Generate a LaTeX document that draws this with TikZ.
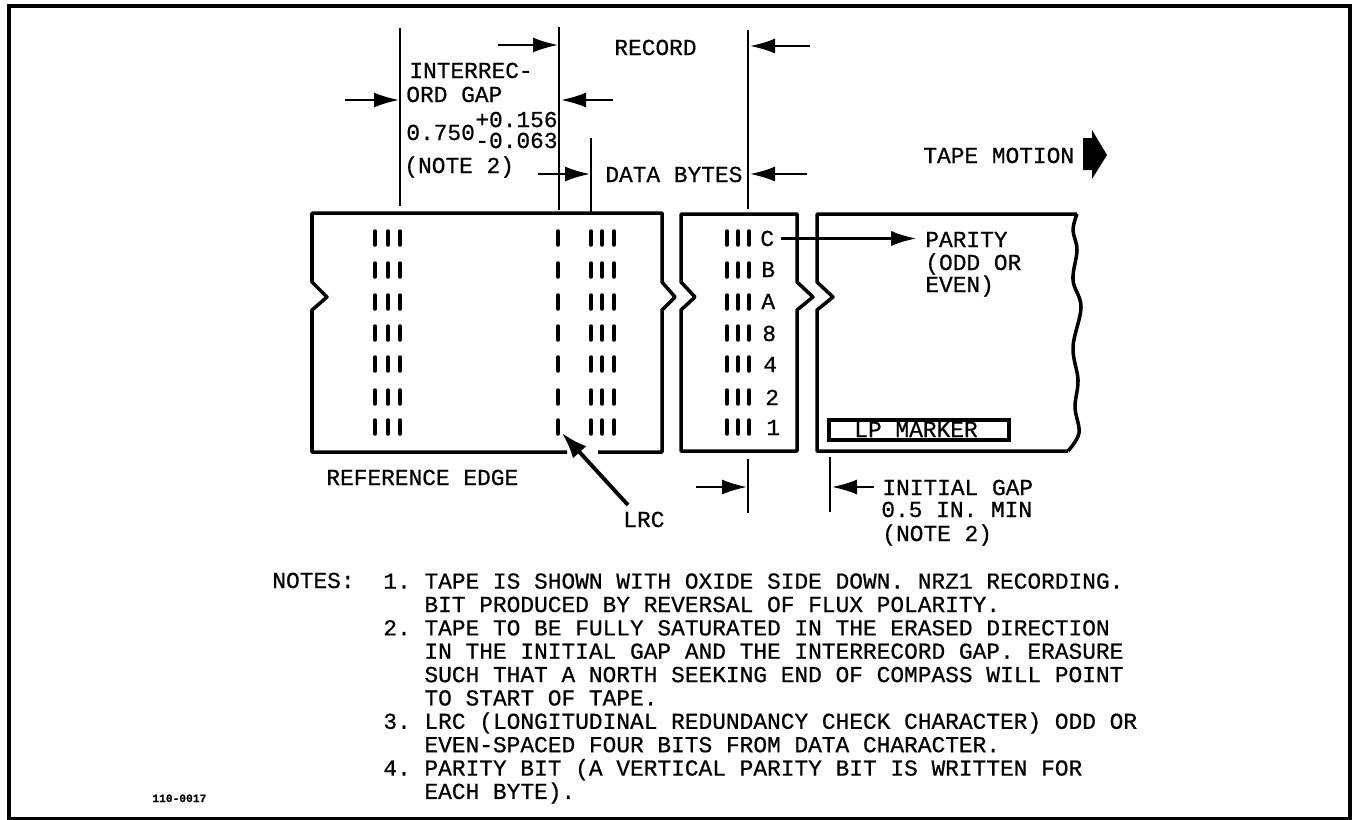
\documentclass[tikz,border=0pt]{standalone}
\usepackage{fontspec}
\setmainfont[FakeBold=0.6]{Liberation Mono}
\usetikzlibrary{arrows.meta, calc}

\begin{document}
\frenchspacing
\begin{tikzpicture}[
    x=0.02cm, y=-0.02cm,
    >={Latex[length=0.5cm,width=0.3cm]}, % Set default arrow tip style
    dimline/.style={line width=1.2pt},
    dimarrow/.style={->, line width=1.2pt},
    tapeedge/.style={line width=2pt, line join=round},
    bittick/.style={line width=2pt, line cap=round},
    lbl/.style={inner sep=0pt, align=left, anchor=base west, font=\fontsize{13}{15}\selectfont}
]

    \useasboundingbox (0,0) rectangle (1356,819);

    % Outer frame
    \draw[line width=2.3pt] (9,6) rectangle (1350,819);

    % Tape pieces
    \draw[tapeedge] (567,452) -- (312,452) -- (312,310) -- (327,297) -- (312,282) -- (312,213)
        -- (662,213) -- (662,282) -- (675,297) -- (662,310) -- (662,452) -- (598,452);
    \draw[tapeedge] (681,214) -- (797,214) -- (797,282) -- (813,297) -- (797,310) -- (797,451)
        -- (681,451) -- (681,310) -- (695,297) -- (681,282) -- cycle;
    \draw[tapeedge] (1068,451) -- (817,451) -- (817,310) -- (833,297) -- (817,282) -- (817,214) -- (1077,214);
    \draw[tapeedge] plot[smooth, tension=0.6] coordinates {(1077,214) (1073,230) (1077,250) (1073,280)
        (1081,307) (1073,347) (1078,380) (1075,407) (1079,433) (1068,451)};

    % Bit marks
    \foreach \rowy in {238,270,302,333,364,397,427} {
        \foreach \bitx in {375,388,400,558,591,602,614,727,738,749}
            \draw[bittick] (\bitx,\rowy-7) -- (\bitx,\rowy+7);
    }

    % Track names
    \node[lbl] (trackC) at (760,246) {C};
    \node[lbl] (trackB) at (761,277) {B};
    \node[lbl] (trackA) at (761,309) {A};
    \node[lbl] (track8) at (762,341) {8};
    \node[lbl] (track4) at (763,372) {4};
    \node[lbl] (track2) at (765,405) {2};
    \node[lbl] (track1) at (766,435) {1};

    % Extension lines
    \draw[dimline] (400,28) -- (400,206);
    \draw[dimline] (559,27) -- (559,210);
    \draw[dimline] (591,138) -- (591,213);
    \draw[dimline] (748,30) -- (748,209);
    \draw[dimline] (748,459) -- (748,513);
    \draw[dimline] (830,457) -- (830,512);

    % Dimension arrows, tail then tip
    \coordinate (gapLtail) at (345,100);   \coordinate (gapLtip) at (399,100);
    \coordinate (recLtail) at (498,45);    \coordinate (recLtip) at (558,45);
    \coordinate (gapRtail) at (613,100);   \coordinate (gapRtip) at (561,100);
    \coordinate (dataLtail) at (538,174);  \coordinate (dataLtip) at (590,174);
    \coordinate (recRtail) at (810,46);    \coordinate (recRtip) at (750,46);
    \coordinate (dataRtail) at (807,174);  \coordinate (dataRtip) at (750,174);
    \coordinate (initLtail) at (696,487);  \coordinate (initLtip) at (747,487);
    \coordinate (initRtail) at (874,487);  \coordinate (initRtip) at (832,487);
    \draw[dimarrow] (gapLtail) -- (gapLtip);
    \draw[dimarrow] (recLtail) -- (recLtip);
    \draw[dimarrow] (gapRtail) -- (gapRtip);
    \draw[dimarrow] (dataLtail) -- (dataLtip);
    \draw[dimarrow] (recRtail) -- (recRtip);
    \draw[dimarrow] (dataRtail) -- (dataRtip);
    \draw[dimarrow] (initLtail) -- (initLtip);
    \draw[dimarrow] (initRtail) -- (initRtip);

    % Tape motion
    \fill (1083,138) -- (1092,138) -- (1092,130) -- (1107,155) -- (1092,179) -- (1092,170) -- (1083,170) -- cycle;

    % LP marker
    \draw[line width=1.8pt] (829,420) rectangle (1009,440);
    \node[lbl] (lpmark) at (854,437) {LP MARKER};

    % Labels
    \node[lbl] (record) at (614,55) {RECORD};
    \node[lbl] (interrec) at (409,78) {INTERREC-};
    \node[lbl] (ordgap) at (406,102) {ORD GAP};
    \node[lbl] (gapval) at (406,140) {0.750};
    \node[lbl, font=\fontsize{13}{11.9}\selectfont] (gaptol) at (475,148) {+0.156\\-0.063};
    \node[lbl] (gapnote) at (404,173) {(NOTE 2)};
    \node[lbl] (databytes) at (605,182) {DATA BYTES};
    \node[lbl] (motion) at (923,163) {TAPE MOTION};
    \node[lbl] (parity) at (925,247) {PARITY};
    \node[lbl] (oddeven) at (925,270) {(ODD OR};
    \node[lbl] (even) at (925,292) {EVEN)};
    \node[lbl] (refedge) at (326,485) {REFERENCE EDGE};
    \node[lbl] (lrc) at (623,527) {LRC};
    \node[lbl] (initgap) at (882,495) {INITIAL GAP};
    \node[lbl] (initval) at (881,517) {0.5 IN. MIN};
    \node[lbl] (initnote) at (882,541) {(NOTE 2)};

    % Parity and LRC pointers
    \draw[dimarrow, shorten <=4pt, shorten >=5pt] (trackC.east) -- (trackC.east -| parity.west);
    \coordinate (lrctail) at (628,505);
    \coordinate (lrcbit) at (562,433);
    \draw[->, >={Latex[length=0.52cm,width=0.36cm]}, line width=2.2pt] (lrctail) -- (lrcbit);

    % Notes
    \node[lbl] (notehead) at (272,588) {NOTES:};
    \node[lbl, font=\fontsize{13}{13.3}\selectfont, anchor=north west] (notelist) at (383,573) {%
1. TAPE IS SHOWN WITH OXIDE SIDE DOWN. NRZ1 RECORDING.\\
\ \ \ BIT PRODUCED BY REVERSAL OF FLUX POLARITY.\\
2. TAPE TO BE FULLY SATURATED IN THE ERASED DIRECTION\\
\ \ \ IN THE INITIAL GAP AND THE INTERRECORD GAP. ERASURE\\
\ \ \ SUCH THAT A NORTH SEEKING END OF COMPASS WILL POINT\\
\ \ \ TO START OF TAPE.\\
3. LRC (LONGITUDINAL REDUNDANCY CHECK CHARACTER) ODD OR\\
\ \ \ EVEN-SPACED FOUR BITS FROM DATA CHARACTER.\\
4. PARITY BIT (A VERTICAL PARITY BIT IS WRITTEN FOR\\
\ \ \ EACH BYTE).};

    % Drawing number
    \node[lbl, font=\bfseries\fontsize{6.4}{8}\selectfont] (dwgno) at (152,802) {110-0017};

\end{tikzpicture}
\end{document}
